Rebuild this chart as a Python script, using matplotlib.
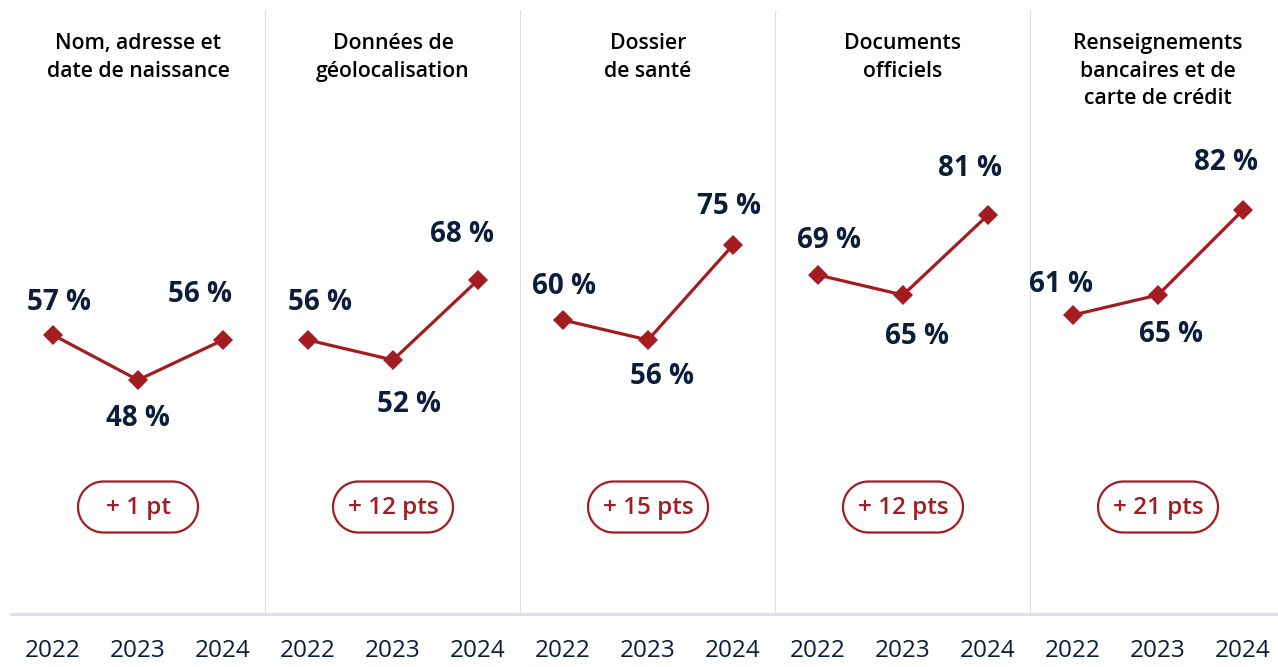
import numpy as np
import matplotlib.pyplot as plt
from matplotlib.patches import Polygon
from matplotlib.transforms import IdentityTransform

# Données
titres = [
    "Nom, adresse et\ndate de naissance",
    "Données de\ngéolocalisation",
    "Dossier\nde santé",
    "Documents\nofficiels",
    "Renseignements\nbancaires et de\ncarte de crédit",
]
annees = ["2022", "2023", "2024"]
nom_adresse = [57, 48, 56]
geolocalisation = [56, 52, 68]
sante = [60, 56, 75]
documents = [69, 65, 81]
bancaires = [61, 65, 82]
ecarts = ["+ 1 pt", "+ 12 pts", "+ 15 pts", "+ 12 pts", "+ 21 pts"]

series = [nom_adresse, geolocalisation, sante, documents, bancaires]

# Décalages des étiquettes (pixels) par point
decalages = [
    [(6, 33), (0, -38), (-23, 46)],
    [(12, 38), (16, -45), (-16, 45)],
    [(1, 34), (14, -36), (-4, 39)],
    [(11, 35), (14, -41), (-18, 46)],
    [(-12, 31), (13, -39), (-17, 47)],
]

ROUGE = "#a21c22"
MARINE = "#0b1d3a"
GRIS = "#dadfe5"
POLICE = "Open Sans"

W, H = 1278, 667
fig = plt.figure(figsize=(W / 100, H / 100), dpi=100)


def pilule(cx, cy, bw, bh, n=40):
    # contour d'une pastille aux extrémités en demi-cercle
    r = bh / 2
    t = np.linspace(-np.pi / 2, np.pi / 2, n)
    droite = np.column_stack([cx + bw / 2 - r + r * np.cos(t), cy + r * np.sin(t)])
    gauche = np.column_stack([cx - bw / 2 + r - r * np.cos(t), cy - r * np.sin(t)])
    return np.vstack([droite, gauche])


bas_px, haut_px = 614, 12
largeur_px = 255
for k, (vals, titre, ecart) in enumerate(zip(series, titres, ecarts)):
    gauche_px = 10.5 + k * largeur_px
    ax = fig.add_axes([gauche_px / W, (H - bas_px) / H,
                       largeur_px / W, (bas_px - haut_px) / H])
    ax.set_xlim(-0.5, 2.5)
    ax.set_ylim((620 - bas_px) / 5, (620 - haut_px) / 5)
    x = range(len(vals))
    ax.plot(x, vals, color=ROUGE, lw=2.3, marker="D", ms=10,
            solid_joinstyle="round", markeredgewidth=0, zorder=3)
    for i, v in enumerate(vals):
        dx, dy = decalages[k][i]
        ax.annotate(f"{v} %", (i, v), xytext=(dx * 0.72, dy * 0.72),
                    textcoords="offset points", ha="center", va="center",
                    fontsize=20, fontweight="bold", color=MARINE,
                    family=POLICE)
    ax.text(1, (620 - 33) / 5, titre, ha="center", va="top", fontsize=15.3,
            fontweight="semibold", color="black", family=POLICE,
            linespacing=1.42)

    ax.set_xticks(list(x))
    ax.set_xticklabels(annees, fontsize=17.5, color=MARINE, family=POLICE)
    ax.tick_params(axis="x", length=0, pad=18)
    ax.set_yticks([])
    for s in ["top", "left"]:
        ax.spines[s].set_visible(False)
    ax.spines["bottom"].set_color(GRIS)
    ax.spines["bottom"].set_linewidth(2)
    ax.spines["right"].set_color(GRIS)
    ax.spines["right"].set_linewidth(1.5)
    ax.spines["right"].set_visible(k < 4)

    # Pastille d'écart
    cx = gauche_px + largeur_px / 2
    cy = H - 507
    pastille = Polygon(pilule(cx, cy, 120, 51), closed=True,
                       transform=IdentityTransform(), facecolor="white",
                       edgecolor=ROUGE, linewidth=1.6, zorder=4)
    fig.patches.append(pastille)
    fig.text(cx / W, (cy - 1) / H, ecart, ha="center", va="center",
             fontsize=17.5, fontweight="semibold", color=ROUGE, family=POLICE,
             zorder=5)

fig.savefig("out.png", dpi=100)
